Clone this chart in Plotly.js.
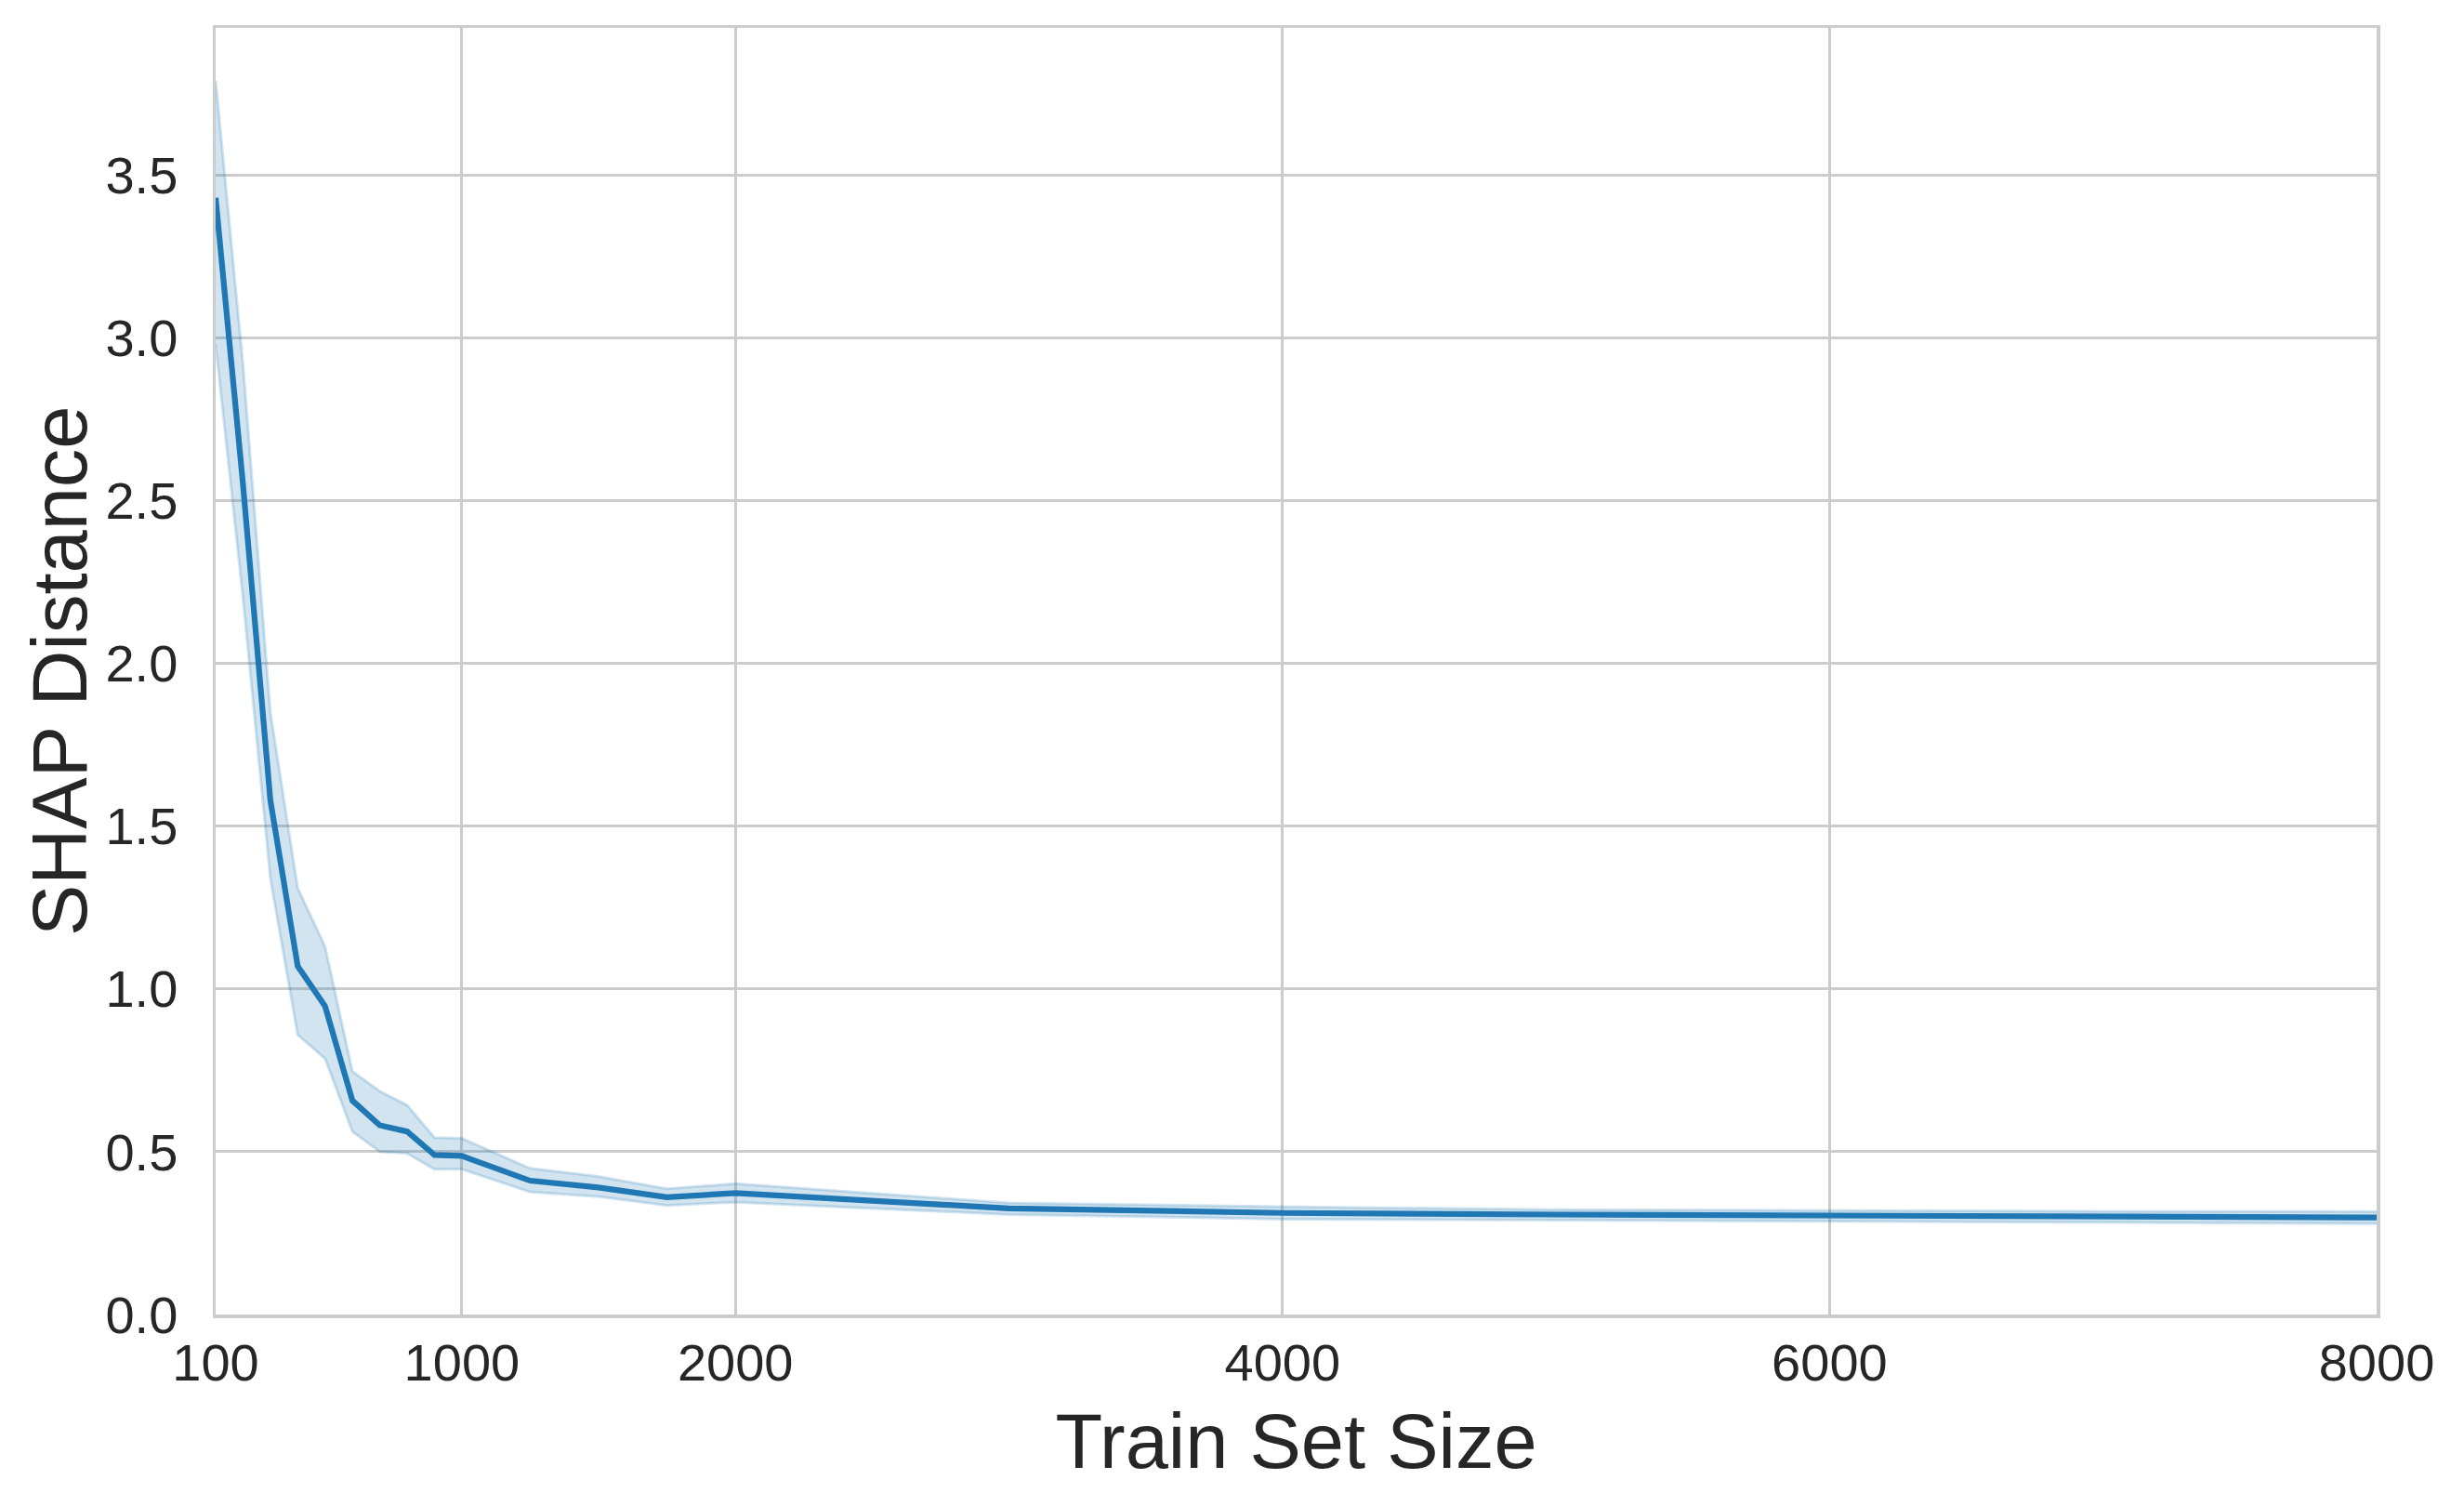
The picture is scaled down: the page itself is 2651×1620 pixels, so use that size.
<!DOCTYPE html>
<html>
<head>
<meta charset="utf-8">
<script src="https://cdn.plot.ly/plotly-3.0.1.min.js"></script>
<style>
  html, body { margin: 0; padding: 0; background: #ffffff; }
  #chart { width: 2651px; height: 1620px; }
</style>
</head>
<body>
<div id="chart"></div>
<script>
// Data
const trainSize = [100, 200, 300, 400, 500, 600, 700, 800, 900, 1000, 1250, 1500, 1750, 2000, 3000, 4000, 5000, 6000, 7000, 8000];
const meanDist  = [3.43, 2.55, 1.58, 1.07, 0.947, 0.657, 0.581, 0.562, 0.490, 0.487, 0.411, 0.390, 0.360, 0.373, 0.326, 0.312, 0.307, 0.303, 0.301, 0.298];
const upperDist = [3.79, 2.92, 1.85, 1.31, 1.13, 0.747, 0.686, 0.643, 0.543, 0.541, 0.449, 0.424, 0.386, 0.402, 0.343, 0.331, 0.322, 0.319, 0.317, 0.316];
const lowerDist = [2.98, 2.20, 1.34, 0.859, 0.786, 0.562, 0.500, 0.495, 0.446, 0.446, 0.376, 0.362, 0.335, 0.345, 0.307, 0.293, 0.290, 0.286, 0.283, 0.279];
const xTickVals = [100, 1000, 2000, 4000, 6000, 8000];
const xTickText = ['100', '1000', '2000', '4000', '6000', '8000'];
const xLabel = 'Train Set Size';
const yLabel = 'SHAP Distance';

const blue = '#1f77b4';
const bandFill = 'rgba(31,119,180,0.2)';
const bandEdge = 'rgba(31,119,180,0.2)';
const textColor = '#262626';
const gridColor = '#cccccc';
const fontFamily = '"Liberation Sans", Arial, "DejaVu Sans", sans-serif';

const traces = [
  {
    x: trainSize, y: upperDist, type: 'scatter', mode: 'lines',
    line: { color: bandEdge, width: 3 }, hoverinfo: 'skip', showlegend: false
  },
  {
    x: trainSize, y: lowerDist, type: 'scatter', mode: 'lines',
    fill: 'tonexty', fillcolor: bandFill,
    line: { color: bandEdge, width: 3 }, hoverinfo: 'skip', showlegend: false
  },
  {
    x: trainSize, y: meanDist, type: 'scatter', mode: 'lines',
    line: { color: blue, width: 6.2 }, showlegend: false
  }
];

const layout = {
  width: 2651,
  height: 1620,
  paper_bgcolor: '#ffffff',
  plot_bgcolor: '#ffffff',
  margin: { l: 232, r: 94, t: 30, b: 206 },
  font: { family: fontFamily, color: textColor, size: 56 },
  showlegend: false,
  xaxis: {
    range: [100, 8000],
    tickvals: xTickVals,
    ticktext: xTickText,
    showgrid: true, gridcolor: gridColor, gridwidth: 3,
    showline: true, linecolor: gridColor, linewidth: 3.5, mirror: true,
    zeroline: false,
    ticks: '',
    ticklabelstandoff: 0,
    tickfont: { size: 56, color: textColor, family: fontFamily },
    title: { text: xLabel, font: { size: 83, color: textColor, family: fontFamily }, standoff: 26 }
  },
  yaxis: {
    range: [0, 3.952],
    tick0: 0, dtick: 0.5,
    tickformat: '.1f',
    showgrid: true, gridcolor: gridColor, gridwidth: 3,
    showline: true, linecolor: gridColor, linewidth: 3.5, mirror: true,
    zeroline: false,
    ticks: '',
    ticklabelstandoff: 26,
    tickfont: { size: 56, color: textColor, family: fontFamily }
  },
  annotations: [
    {
      text: yLabel,
      textangle: -90,
      xref: 'paper', yref: 'paper',
      x: 0, y: 0.5,
      xanchor: 'center', yanchor: 'middle',
      xshift: -168,
      showarrow: false,
      font: { size: 83, color: textColor, family: fontFamily }
    }
  ]
};

Plotly.newPlot('chart', traces, layout, { staticPlot: true, displayModeBar: false });
</script>
</body>
</html>
